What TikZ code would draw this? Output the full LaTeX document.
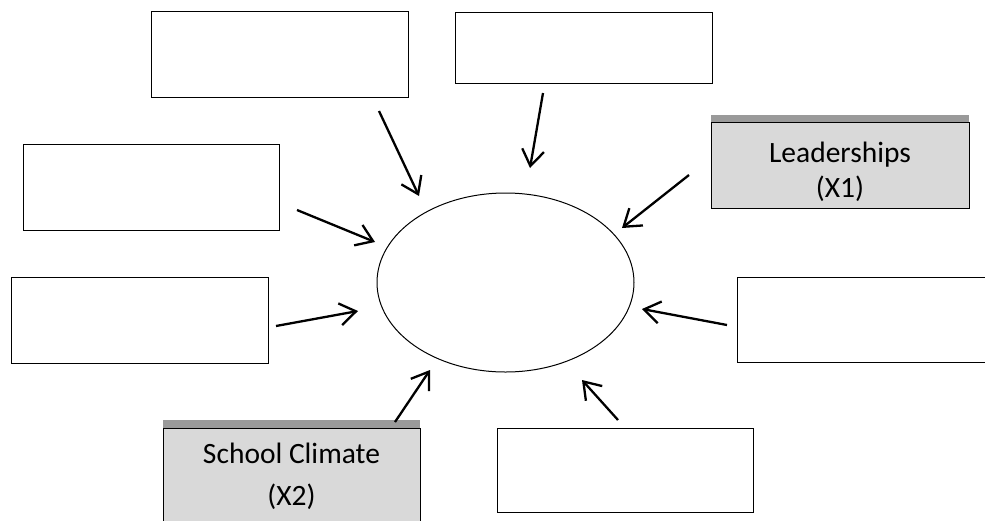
\documentclass[tikz,border=0pt]{standalone}
\usepackage{fontspec}
\setmainfont{Carlito}
\usetikzlibrary{arrows.meta,shapes.geometric}
\definecolor{boxgray}{HTML}{D9D9D9}
\definecolor{bargray}{HTML}{9A9A9A}
\tikzset{
  box/.style={draw=black, line width=1pt, fill=white, inner sep=0pt},
  graybox/.style={box, fill=boxgray},
  bar/.style={fill=bargray, draw=none, inner sep=0pt},
  lbl/.style={anchor=base, inner sep=0pt, font=\fontsize{29.5}{35}\selectfont},
  arr/.style={line width=2.3pt, -{Straight Barb[length=16pt,width=22pt,line width=2.3pt]}},
}
\begin{document}
\begin{tikzpicture}[x=1pt,y=-1pt]
\useasboundingbox (0,0) rectangle (985,520);
\clip (0,0) rectangle (985,520);
% boxes
\node[box, minimum width=257pt, minimum height=86pt] (ba) at (279.5,54) {};
\node[box, minimum width=257pt, minimum height=71pt] (bb) at (583.5,47.5) {};
\node[box, minimum width=256pt, minimum height=86pt] (bc) at (151,187) {};
\node[box, minimum width=257pt, minimum height=86pt] (bd) at (139.5,320) {};
\node[box, minimum width=260pt, minimum height=85pt] (bf) at (867,319.5) {};
\node[box, minimum width=256pt, minimum height=84pt] (bg) at (625,470) {};
% gray boxes
\node[bar, minimum width=258pt, minimum height=7pt] (barl) at (840,118.5) {};
\node[graybox, minimum width=258pt, minimum height=86pt] (bl) at (840,165) {};
\node[lbl] (tl1) at (840,162) {Leaderships};
\node[lbl] (tl2) at (840,197) {(X1)};
\node[bar, minimum width=257pt, minimum height=8pt] (bars) at (291.5,424) {};
\node[graybox, minimum width=257pt, minimum height=100pt] (bs) at (291.5,478) {};
\node[lbl] (ts1) at (291.5,463) {School Climate};
\node[lbl] (ts2) at (291.5,505) {(X2)};
% ellipse
\node[ellipse, draw=black, line width=1pt, minimum width=257pt, minimum height=179pt, inner sep=0pt] (el) at (505.5,282.5) {};
% arrow ends
\coordinate (s1) at (379,111);  \coordinate (e1) at (419,196);
\coordinate (s2) at (543,93);   \coordinate (e2) at (530,168);
\coordinate (s3) at (689,175);  \coordinate (e3) at (622,228);
\coordinate (s4) at (297,210);  \coordinate (e4) at (375,242);
\coordinate (s5) at (276,326);  \coordinate (e5) at (358,311);
\coordinate (s6) at (727,325);  \coordinate (e6) at (642,309);
\coordinate (s7) at (395,422);  \coordinate (e7) at (430,370);
\coordinate (s8) at (618,420);  \coordinate (e8) at (582,380);
\foreach \i in {1,...,8} {\draw[arr] (s\i) -- (e\i);}
\end{tikzpicture}
\end{document}
